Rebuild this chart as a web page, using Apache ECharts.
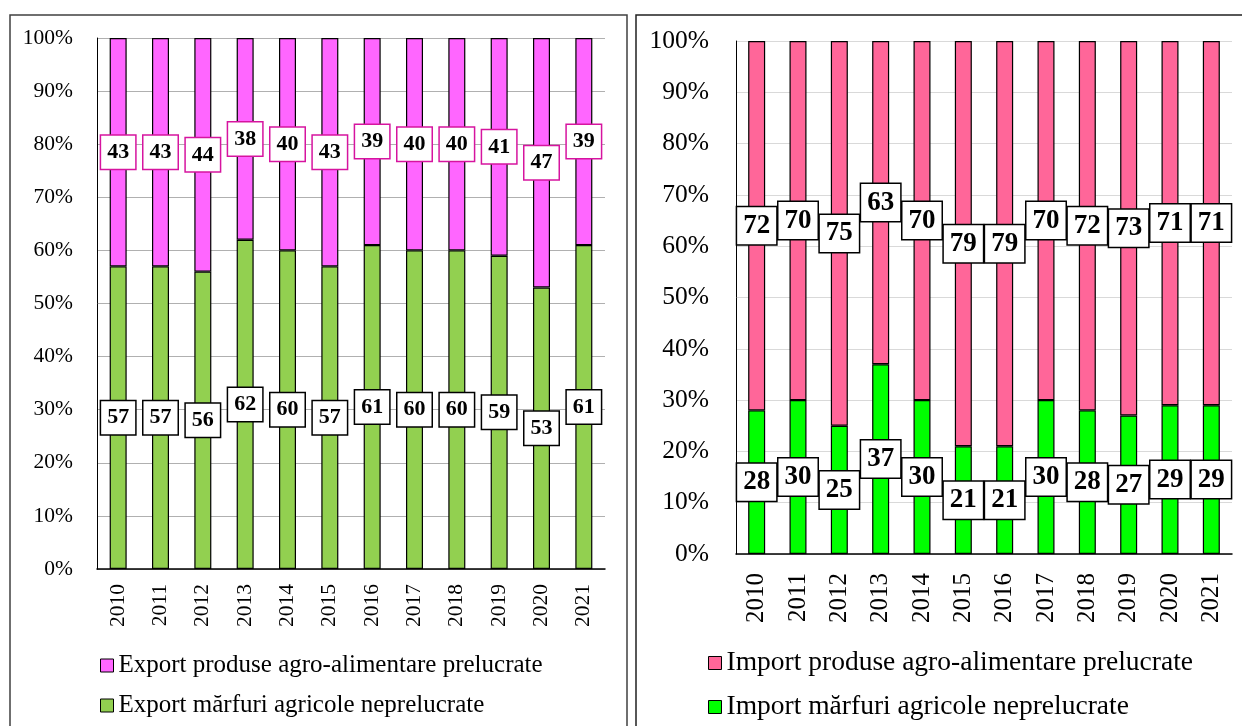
<!DOCTYPE html>
<html><head><meta charset="utf-8">
<script src="https://cdn.jsdelivr.net/npm/echarts@6/dist/echarts.min.js"></script>
<style>html,body{margin:0;padding:0;background:#fff}#c{width:1242px;height:726px}</style>
</head><body><div id="c"></div>
<script>
const years = ['2010','2011','2012','2013','2014','2015','2016','2017','2018','2019','2020','2021'];
const exportProcessed = [43,43,44,38,40,43,39,40,40,41,47,39];
const exportRaw = [57,57,56,62,60,57,61,60,60,59,53,61];
const importProcessed = [72,70,75,63,70,79,79,70,72,73,71,71];
const importRaw = [28,30,25,37,30,21,21,30,28,27,29,29];

const nameEP = 'Export produse agro-alimentare prelucrate';
const nameER = 'Export mărfuri agricole neprelucrate';
const nameIP = 'Import produse agro-alimentare prelucrate';
const nameIR = 'Import mărfuri agricole neprelucrate';
const FF = '"Liberation Serif","Times New Roman",serif';

function lbl(size, border, pad){
  return {show:true, position:'inside', color:'#000', fontFamily:FF, fontWeight:'bold', fontSize:size,
    lineHeight:size, backgroundColor:'#fff', borderColor:border, borderWidth:1.5, padding:pad, formatter:p=>p.value};
}
const chart = echarts.init(document.getElementById('c'));
chart.setOption({
  animation:false,
  graphic:[
    {type:'rect', shape:{x:10,y:15,width:617,height:800}, style:{fill:'none',stroke:'#404040',lineWidth:1.5}},
    {type:'rect', shape:{x:636,y:15,width:700,height:800}, style:{fill:'none',stroke:'#202020',lineWidth:1.5}}
  ],
  grid:[
    {left:97, top:38, width:508, height:531},
    {left:736, top:41, width:496, height:513}
  ],
  legend:[
    {data:[nameEP,nameER], left:100, top:653, padding:0, orient:'vertical', itemGap:15, itemWidth:13, itemHeight:13,
     icon:'rect', textStyle:{fontFamily:FF, fontSize:25, lineHeight:25, color:'#000'},
     itemStyle:{borderColor:'#000',borderWidth:1}, selectedMode:false},
    {data:[nameIP,nameIR], left:708, top:649, padding:0, orient:'vertical', itemGap:16, itemWidth:13, itemHeight:13,
     icon:'rect', textStyle:{fontFamily:FF, fontSize:27.5, lineHeight:27, color:'#000'},
     itemStyle:{borderColor:'#000',borderWidth:1}, selectedMode:false}
  ],
  xAxis:[
    {type:'category', gridIndex:0, data:years, axisTick:{show:false},
     axisLine:{lineStyle:{color:'#000',width:1.5}},
     axisLabel:{rotate:90, fontFamily:FF, fontSize:21.5, color:'#000', margin:15}},
    {type:'category', gridIndex:1, data:years, axisTick:{show:false},
     axisLine:{lineStyle:{color:'#000',width:1.5}},
     axisLabel:{rotate:90, fontFamily:FF, fontSize:25, color:'#000', margin:19}}
  ],
  yAxis:[
    {type:'value', gridIndex:0, min:0, max:100, interval:10,
     axisLine:{show:true, lineStyle:{color:'#000',width:1}},
     splitLine:{lineStyle:{color:'#b0b0b0',width:1}},
     axisLabel:{fontFamily:FF, fontSize:21.5, color:'#000', margin:24, formatter:v=>v+'%'}},
    {type:'value', gridIndex:1, min:0, max:100, interval:10,
     axisLine:{show:true, lineStyle:{color:'#000',width:1}},
     splitLine:{lineStyle:{color:'#d9d9d9',width:1}},
     axisLabel:{fontFamily:FF, fontSize:25.5, color:'#000', margin:27, formatter:v=>v+'%'}}
  ],
  series:[
    {name:nameER, type:'bar', stack:'L', xAxisIndex:0, yAxisIndex:0, data:exportRaw, barWidth:17,
     itemStyle:{color:'#92d050', borderColor:'#000', borderWidth:1.2}, label:lbl(22,'#000',[6,6,5,6])},
    {name:nameEP, type:'bar', stack:'L', xAxisIndex:0, yAxisIndex:0, data:exportProcessed, barWidth:17,
     itemStyle:{color:'#ff66ff', borderColor:'#000', borderWidth:1.2}, label:lbl(22,'#d6149f',[6,6,5,6])},
    {name:nameIR, type:'bar', stack:'R', xAxisIndex:1, yAxisIndex:1, data:importRaw, barWidth:17,
     itemStyle:{color:'#00ff00', borderColor:'#000', borderWidth:1.2}, label:lbl(27,'#000',[6,6,4,6])},
    {name:nameIP, type:'bar', stack:'R', xAxisIndex:1, yAxisIndex:1, data:importProcessed, barWidth:17,
     itemStyle:{color:'#ff6699', borderColor:'#000', borderWidth:1.2}, label:lbl(27,'#000',[6,6,4,6])}
  ]
});
</script></body></html>
